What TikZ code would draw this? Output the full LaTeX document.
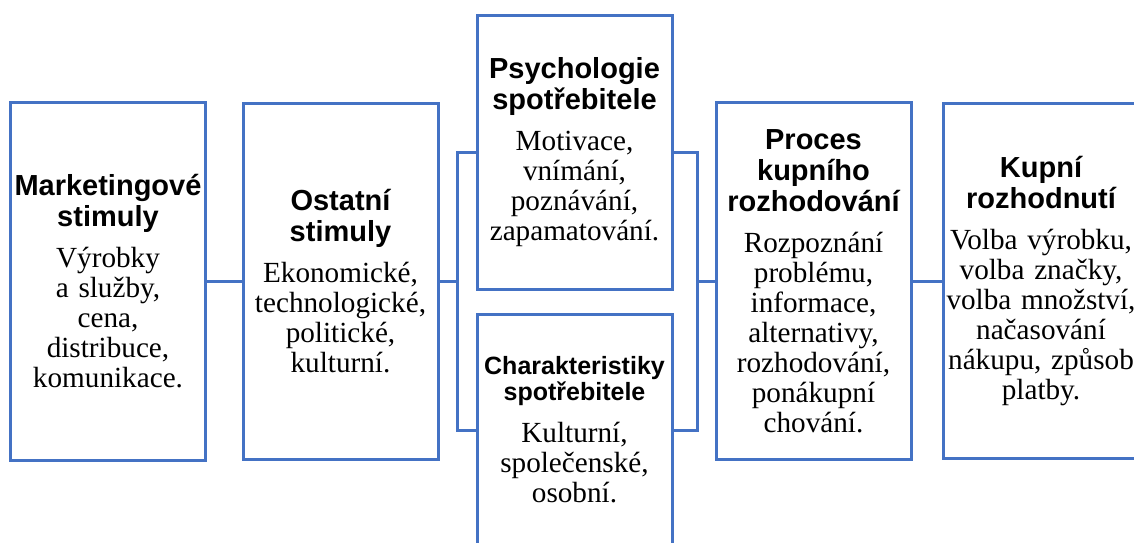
\documentclass[tikz,border=0pt]{standalone}
\usepackage{fontspec}
\setmainfont{Liberation Serif}
\newfontfamily\headfont{Liberation Sans}
\definecolor{frameblue}{HTML}{4472C4}
\newcommand{\boxhead}[1]{{\headfont\bfseries\fontsize{14.5}{15.5}\selectfont #1\par}\vspace{5.5pt}}
\newcommand{\smallhead}[1]{{\headfont\bfseries\fontsize{12.5}{13}\selectfont #1\par}\vspace{6pt}}

\begin{document}
\begin{tikzpicture}[x=0.5pt, y=-0.5pt,
    stimbox/.style={draw=frameblue, line width=1.5pt, inner sep=0pt, minimum width=97.5pt,
        text width=97pt, align=center, font=\fontsize{14.6}{15}\selectfont},
    wire/.style={draw=frameblue, line width=1.5pt}]
    \useasboundingbox (0, 0) rectangle (1134, 542);
    \clip (0, 0) rectangle (1134, 542);

    \node[stimbox, minimum height=179pt] (mark) at (108, 281)
        {\boxhead{Marketingové\\stimuly}Výrobky\\a služby,\\cena,\\distribuce,\\komunikace.};
    \node[stimbox, minimum height=178pt] (other) at (340.5, 281)
        {\boxhead{Ostatní\\stimuly}Ekonomické,\\technologické,\\politické,\\kulturní.};
    \node[stimbox, minimum height=137pt] (psych) at (574.5, 152)
        {\boxhead{Psychologie\\spotřebitele}Motivace,\\vnímání,\\poznávání,\\zapamatování.};
    \node[stimbox, minimum height=116pt] (char) at (574.5, 430)
        {\smallhead{Charakteristiky\\spotřebitele}Kulturní,\\společenské,\\osobní.};
    \node[stimbox, minimum height=178.5pt] (proc) at (813.5, 281)
        {\boxhead{Proces\\kupního\\rozhodování}Rozpoznání\\problému,\\informace,\\alternativy,\\rozhodování,\\ponákupní\\chování.};
    \node[stimbox, minimum height=177.5pt] (buy) at (1041, 281)
        {\boxhead{Kupní\\rozhodnutí}Volba výrobku,\\volba značky,\\volba množství,\\načasování\\nákupu, způsob\\platby.};

    \coordinate (jl) at (457, 281); % left bracket
    \coordinate (jr) at (697, 281); % right bracket

    \draw[wire] (mark) -- (other);
    \draw[wire] (other) -- (jl);
    \draw[wire] (psych.west) -| (jl) |- (char.west);
    \draw[wire] (psych.east) -| (jr) |- (char.east);
    \draw[wire] (jr) -- (proc);
    \draw[wire] (proc) -- (buy);
\end{tikzpicture}
\end{document}
